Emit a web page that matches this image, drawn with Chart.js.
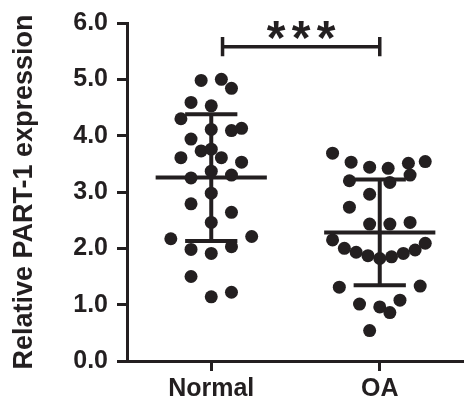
<!DOCTYPE html>
<html>
<head>
<meta charset="utf-8">
<script src="https://cdn.jsdelivr.net/npm/chart.js@4/dist/chart.umd.min.js"></script>
<style>
  html, body { margin: 0; padding: 0; background: #fff; }
  #chart { display: block; }
</style>
</head>
<body>
<canvas id="chart" width="464" height="406"></canvas>
<script>
// Data
const categories = ["Normal", "OA"];
const normalValues = [4.98, 5.00, 4.84, 4.59, 4.53, 4.30, 4.11, 4.09, 4.13, 3.94,
  3.73, 3.76, 3.61, 3.61, 3.53, 3.37, 3.25, 3.30, 2.98, 2.79,
  2.64, 2.46, 2.17, 2.21, 1.98, 1.91, 2.03, 1.50, 1.14, 1.22];
// horizontal scatter of each dot, in units of category spacing
const normalJitter = [-0.06, 0.06, 0.12, -0.12, 0, -0.18, 0, 0.12, 0.18, -0.12,
  -0.06, 0, -0.18, 0.06, 0.18, 0, -0.12, 0.12, 0, -0.12,
  0.12, 0, -0.24, 0.24, -0.12, 0, 0.12, -0.12, 0, 0.12];
const oaValues = [3.69, 3.53, 3.44, 3.42, 3.51, 3.54, 3.30, 3.20, 3.17, 2.96,
  2.73, 2.43, 2.43, 2.46, 2.15, 2.00, 1.93, 1.87, 1.82, 1.85,
  1.91, 1.97, 2.09, 1.31, 1.33, 1.01, 0.96, 1.08, 0.86, 0.54];
const oaJitter = [-0.28, -0.17, -0.06, 0.05, 0.17, 0.27, 0.18, -0.18, 0.06, -0.06,
  -0.18, -0.06, 0.06, 0.18, -0.28, -0.21, -0.14, -0.07, 0, 0.07,
  0.14, 0.21, 0.27, -0.24, 0.24, -0.12, 0, 0.12, 0.06, -0.06];
const yTickLabels = ["0.0", "1.0", "2.0", "3.0", "4.0", "5.0", "6.0"];
const significance = "***";

const INK = "#231f20";
const FONT = "'Liberation Sans', Arial, Helvetica, sans-serif";

function mean(arr) {
  return arr.reduce((a, b) => a + b, 0) / arr.length;
}
function sd(arr) {
  const m = mean(arr);
  return Math.sqrt(arr.reduce((a, b) => a + (b - m) * (b - m), 0) / (arr.length - 1));
}

function segment(x1, y1, x2, y2) {
  return {
    type: "line",
    data: [{ x: x1, y: y1 }, { x: x2, y: y2 }],
    borderColor: INK,
    borderWidth: 4,
    borderCapStyle: "butt",
    pointRadius: 0,
    showLine: true,
    order: 0
  };
}

const groups = [
  { values: normalValues, jitter: normalJitter },
  { values: oaValues, jitter: oaJitter }
];

const datasets = [];
groups.forEach((g, i) => {
  const cx = i + 1;
  datasets.push({
    type: "scatter",
    data: g.values.map((v, j) => ({ x: cx + g.jitter[j], y: v })),
    pointRadius: 6.5,
    pointHoverRadius: 6.5,
    pointBackgroundColor: INK,
    pointBorderWidth: 0,
    order: 1
  });
  // mean +/- SD
  const m = mean(g.values);
  const s = sd(g.values);
  datasets.push(segment(cx - 0.33, m, cx + 0.33, m));
  datasets.push(segment(cx, m - s, cx, m + s));
  datasets.push(segment(cx - 0.155, m + s, cx + 0.155, m + s));
  datasets.push(segment(cx - 0.155, m - s, cx + 0.155, m - s));
});

// significance bracket between the two groups
const bracketPlugin = {
  id: "bracket",
  afterDatasetsDraw(chart) {
    const { ctx, scales } = chart;
    const x1 = scales.x.getPixelForValue(1.067);
    const x2 = scales.x.getPixelForValue(2.0);
    const y = scales.y.getPixelForValue(5.58);
    const yTop = scales.y.getPixelForValue(5.75);
    const yBot = scales.y.getPixelForValue(5.41);
    ctx.save();
    ctx.strokeStyle = INK;
    ctx.lineWidth = 3.5;
    ctx.lineCap = "butt";
    ctx.beginPath();
    ctx.moveTo(x1, y); ctx.lineTo(x2, y);
    ctx.moveTo(x1, yTop); ctx.lineTo(x1, yBot);
    ctx.moveTo(x2, yTop); ctx.lineTo(x2, yBot);
    ctx.stroke();

    ctx.fillStyle = INK;
    ctx.font = "bold 48px " + FONT;
    ctx.textAlign = "center";
    ctx.textBaseline = "alphabetic";
    const m = ctx.measureText("*");
    const starCenterY = scales.y.getPixelForValue(5.87);
    const baseline = starCenterY + (m.actualBoundingBoxAscent - m.actualBoundingBoxDescent) / 2;
    const cx = (x1 + x2) / 2;
    const stars = significance.split("");
    stars.forEach((st, k) => {
      ctx.fillText(st, cx + (k - (stars.length - 1) / 2) * 25, baseline);
    });
    ctx.restore();
  }
};

new Chart(document.getElementById("chart"), {
  type: "scatter",
  data: { datasets },
  options: {
    responsive: false,
    animation: false,
    events: [],
    layout: { autoPadding: false, padding: { top: 23, right: 0, left: 0, bottom: 0 } },
    plugins: {
      legend: { display: false },
      tooltip: { enabled: false }
    },
    scales: {
      x: {
        type: "linear",
        min: 0.5,
        max: 2.5,
        afterBuildTicks: (scale) => { scale.ticks = categories.map((c, i) => ({ value: i + 1 })); },
        afterFit: (scale) => {
          scale.height = 45;
          scale.paddingLeft = 0;
          scale.paddingRight = 0;
        },
        grid: { drawOnChartArea: false, tickLength: 10, tickWidth: 3, tickColor: INK },
        border: { color: INK, width: 3 },
        ticks: {
          callback: (v) => categories[Math.round(v) - 1],
          color: INK,
          font: { family: FONT, size: 25, weight: "bold" },
          padding: 3,
          maxRotation: 0,
          autoSkip: false
        }
      },
      y: {
        min: 0,
        max: 6,
        afterFit: (scale) => {
          scale.width = 127;
          scale.paddingTop = 0;
          scale.paddingBottom = 0;
        },
        grid: { drawOnChartArea: false, tickLength: 10, tickWidth: 3, tickColor: INK },
        border: { color: INK, width: 3 },
        ticks: {
          stepSize: 1,
          callback: (v) => yTickLabels[Math.round(v)],
          color: INK,
          font: { family: FONT, size: 25, weight: "bold" },
          padding: 9
        },
        title: {
          display: true,
          text: "Relative PART-1 expression",
          color: INK,
          font: { family: FONT, size: 27, weight: "bold" },
          padding: { top: 8, bottom: 0 }
        }
      }
    }
  },
  plugins: [bracketPlugin]
});
</script>
</body>
</html>
